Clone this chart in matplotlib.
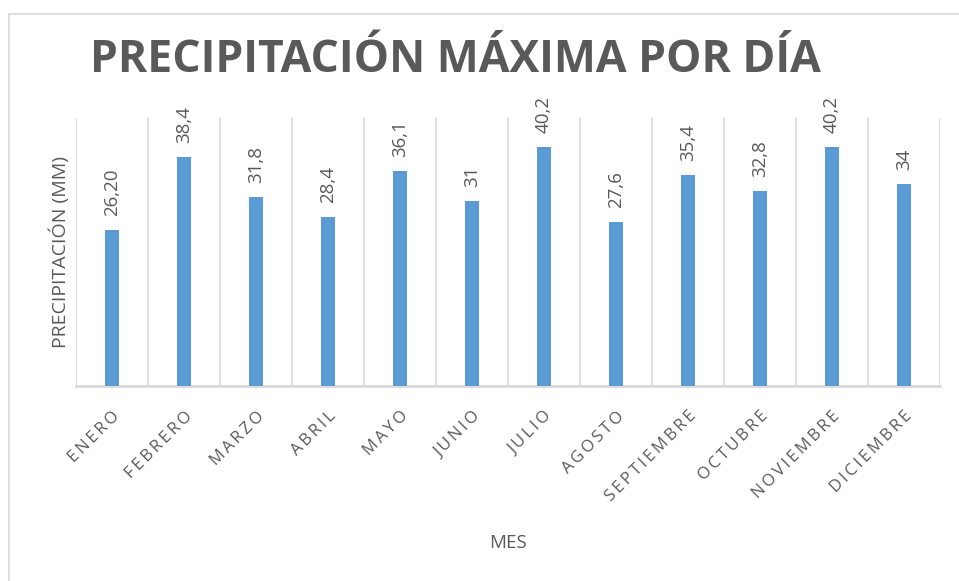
import matplotlib.pyplot as plt
from matplotlib.lines import Line2D

meses = ["ENERO", "FEBRERO", "MARZO", "ABRIL", "MAYO", "JUNIO", "JULIO",
         "AGOSTO", "SEPTIEMBRE", "OCTUBRE", "NOVIEMBRE", "DICIEMBRE"]
precipitacion = [26.2, 38.4, 31.8, 28.4, 36.1, 31.0, 40.2, 27.6, 35.4, 32.8, 40.2, 34.0]
etiquetas = ["26,20", "38,4", "31,8", "28,4", "36,1", "31", "40,2",
             "27,6", "35,4", "32,8", "40,2", "34"]

GRAY = "#595959"
GRID = "#d9d9d9"
BLUE = "#5b9bd5"

plt.rcParams['font.family'] = ['Open Sans', 'DejaVu Sans']

W, H = 959, 581
fig = plt.figure(figsize=(W / 100, H / 100), dpi=100)
ax = fig.add_axes([76 / W, 1 - 386 / H, (940 - 76) / W, (386 - 118) / H])

x = list(range(len(meses)))
ax.bar(x, precipitacion, width=0.19, color=BLUE, zorder=3)
ax.set_xlim(-0.5, len(meses) - 0.5)
ax.set_ylim(0, 45)

# vertical gridlines between categories
for b in range(len(meses) + 1):
    ax.axvline(b - 0.5, color=GRID, lw=1.2, zorder=1)

for xi, v, lab in zip(x, precipitacion, etiquetas):
    ax.annotate(lab, (xi, v), xytext=(0, 10), textcoords="offset points",
                rotation=90, ha="center", va="bottom", color=GRAY, fontsize=13.5)

for s in ["top", "left", "right"]:
    ax.spines[s].set_visible(False)
ax.spines["bottom"].set_color(GRID)
ax.spines["bottom"].set_linewidth(2)
ax.set_yticks([])
ax.set_xticks(x)
ax.set_xticklabels(["\u2009".join(m) for m in meses], rotation=45, ha="right",
                   rotation_mode="anchor", color=GRAY, fontsize=12)
ax.tick_params(axis="x", length=0, pad=16)

ax.set_ylabel("PRECIPITACIÓN (MM)", color=GRAY, fontsize=14, labelpad=4)
fig.text(508 / W, 1 - 543 / H, "MES", ha="center", va="center", color=GRAY, fontsize=13.5)
fig.text(455 / W, 1 - 60 / H, "PRECIPITACIÓN MÁXIMA POR DÍA", ha="center", va="center",
         color=GRAY, fontsize=32, fontweight="bold")

# outer chart frame (top and left edges visible)
fig.add_artist(Line2D([9 / W, 1], [1 - 14 / H, 1 - 14 / H], color=GRID, lw=1.2))
fig.add_artist(Line2D([9 / W, 9 / W], [0, 1 - 14 / H], color=GRID, lw=1.2))

fig.savefig("out.png", dpi=100, facecolor="white")
